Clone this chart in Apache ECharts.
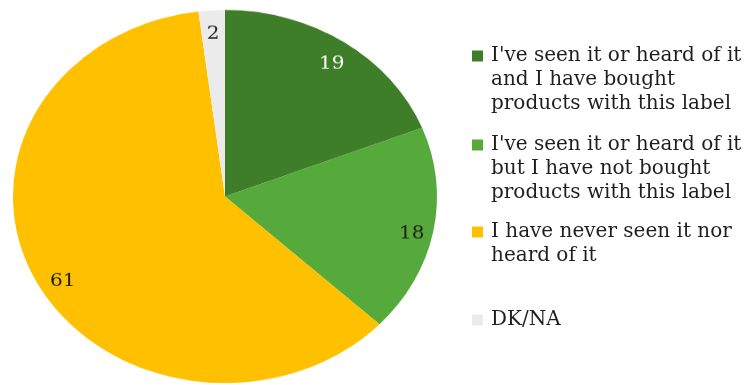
<!DOCTYPE html>
<html>
<head>
<meta charset="utf-8">
<script src="https://cdn.jsdelivr.net/npm/echarts@6/dist/echarts.min.js"></script>
<style>
  html, body { margin: 0; padding: 0; background: #fff; }
  #wrap { position: relative; width: 750px; height: 385px; overflow: hidden; }
  /* the original pie is an ellipse, so the pie chart is squashed vertically */
  #pieChart { position: absolute; left: 0; top: 0; width: 750px; height: 437.5px;
              transform: scaleY(0.88); transform-origin: 0 0; }
  #legendChart { position: absolute; left: 0; top: 0; width: 750px; height: 385px; }
</style>
</head>
<body>
<div id="wrap">
  <div id="pieChart"></div>
  <div id="legendChart"></div>
</div>
<script>
const categories = [
  "I've seen it or heard of it and I have bought products with this label",
  "I've seen it or heard of it but I have not bought products with this label",
  "I have never seen it nor heard of it",
  "DK/NA"
];
const values = [19, 18, 61, 2];
const legendLines = [
  ["I've seen it or heard of it", "and I have bought", "products with this label"],
  ["I've seen it or heard of it", "but I have not bought", "products with this label"],
  ["I have never seen it nor", "heard of it"],
  ["DK/NA"]
];

const sliceColors = ['#3e7e29', '#56a93b', '#ffc000', '#ebebeb'];
const labelColors = ['#ffffff', '#1f1f1f', '#1f1f1f', '#1f1f1f'];
const labelOffsets = [[0, 7], [0, 7], [7, 10], [0, 5]];
const serif = "'DejaVu Serif', 'Liberation Serif', serif";

const pieData = categories.map((name, i) => ({
  name: name,
  value: values[i],
  itemStyle: { color: sliceColors[i] }
}));

// invisible ring that only carries the value labels near the rim
const labelData = categories.map((name, i) => ({
  name: name,
  value: values[i],
  itemStyle: { color: 'rgba(0,0,0,0)' },
  label: { color: labelColors[i], offset: labelOffsets[i] }
}));

const pieChart = echarts.init(document.getElementById('pieChart'));
pieChart.setOption({
  animation: false,
  series: [
    {
      type: 'pie',
      center: [225, 223.3],
      radius: [0, 212],
      startAngle: 90,
      clockwise: true,
      silent: true,
      label: { show: false },
      labelLine: { show: false },
      data: pieData
    },
    {
      type: 'pie',
      center: [225, 223.3],
      radius: [162, 212],
      startAngle: 90,
      clockwise: true,
      silent: true,
      label: {
        show: true,
        position: 'inside',
        formatter: '{c}',
        fontFamily: serif,
        fontSize: 20
      },
      labelLine: { show: false },
      data: labelData
    }
  ]
});

// legend drawn unscaled on top; one legend per entry so the marker sits on the first line
// (blank lines above the text push the first line level with the marker)
const legendTops = [-4, 85, 196, 308];
const lineH = 24;

const legendChart = echarts.init(document.getElementById('legendChart'));
legendChart.setOption({
  animation: false,
  legend: categories.map((name, i) => ({
    data: [name],
    left: 472,
    top: legendTops[i],
    orient: 'vertical',
    padding: 0,
    icon: 'rect',
    itemWidth: 11,
    itemHeight: 11,
    selectedMode: false,
    formatter: () => '\n'.repeat(legendLines[i].length - 1) + legendLines[i].join('\n'),
    textStyle: {
      fontFamily: serif,
      fontSize: 20,
      color: '#1f1f1f',
      lineHeight: lineH,
      padding: [0, 0, 0, 3]
    }
  })),
  series: [{
    type: 'pie',
    radius: [0, 0],
    silent: true,
    label: { show: false },
    labelLine: { show: false },
    data: pieData
  }]
});
</script>
</body>
</html>
